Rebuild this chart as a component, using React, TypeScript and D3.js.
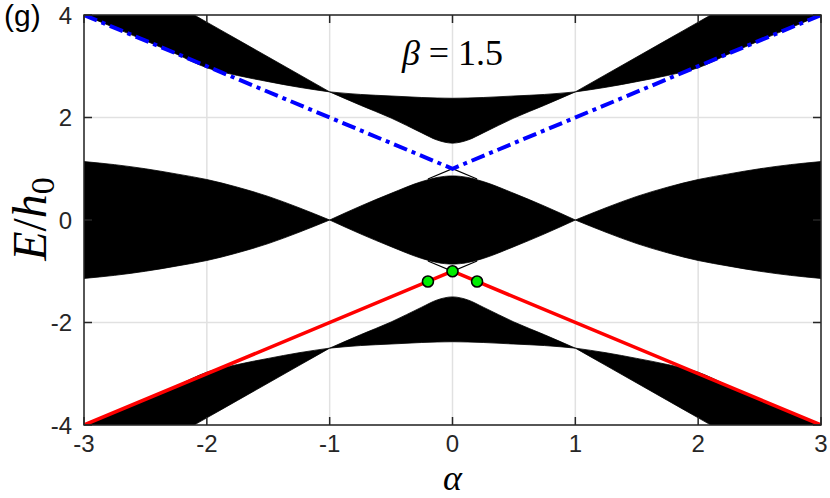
import React from "react";
import * as d3 from "d3";

// ---- data ----
const alphaGrid = [-3, -2.75, -2.5, -2.25, -2, -1.75, -1.5, -1.25, -1, -0.75, -0.5, -0.25, -0.125, 0, 0.125, 0.25, 0.5, 0.75, 1, 1.25, 1.5, 1.75, 2, 2.25, 2.5, 2.75, 3];

const upperBandTop = [5.2, 4.86, 4.54, 4.2, 3.86, 3.52, 3.18, 2.84, 2.5, 2.45, 2.42, 2.39, 2.38, 2.375, 2.38, 2.39, 2.42, 2.45, 2.5, 2.84, 3.18, 3.52, 3.86, 4.2, 4.54, 4.86, 5.2];
const upperBandBottom = [4.0, 3.75, 3.5, 3.24, 2.97, 2.82, 2.7, 2.59, 2.5, 2.24, 1.99, 1.7, 1.56, 1.5, 1.56, 1.7, 1.99, 2.24, 2.5, 2.59, 2.7, 2.82, 2.97, 3.24, 3.5, 3.75, 4.0];
const middleBandTop = [1.14, 1.08, 1.0, 0.9, 0.79, 0.64, 0.46, 0.24, 0, 0.27, 0.52, 0.75, 0.83, 0.86, 0.83, 0.75, 0.52, 0.27, 0, 0.24, 0.46, 0.64, 0.79, 0.9, 1.0, 1.08, 1.14];
const middleBandBottom = [-1.14, -1.08, -1.0, -0.9, -0.79, -0.64, -0.46, -0.24, 0, -0.27, -0.52, -0.75, -0.83, -0.86, -0.83, -0.75, -0.52, -0.27, 0, -0.24, -0.46, -0.64, -0.79, -0.9, -1.0, -1.08, -1.14];
const lowerBandTop = [-4.0, -3.75, -3.5, -3.24, -2.97, -2.82, -2.7, -2.59, -2.5, -2.24, -1.99, -1.7, -1.56, -1.5, -1.56, -1.7, -1.99, -2.24, -2.5, -2.59, -2.7, -2.82, -2.97, -3.24, -3.5, -3.75, -4.0];
const lowerBandBottom = [-5.2, -4.86, -4.54, -4.2, -3.86, -3.52, -3.18, -2.84, -2.5, -2.45, -2.42, -2.39, -2.38, -2.375, -2.38, -2.39, -2.42, -2.45, -2.5, -2.84, -3.18, -3.52, -3.86, -4.2, -4.54, -4.86, -5.2];

// thin edge-state lines near alpha = 0
const edgeAlpha = [-0.2, 0, 0.2];
const edgeUpper = [0.8, 1.0, 0.8];
const edgeLower = [-0.8, -1.0, -0.8];

// blue dash-dot and red solid lines
const blueAlpha = [-3, 0, 3];
const blueE = [4, 1, 4];
const redAlpha = [-3, 0, 3];
const redE = [-4, -1, -4];

// green markers
const dotAlpha = [-0.2, 0, 0.2];
const dotE = [-1.2, -1, -1.2];

const xTicks = [-3, -2, -1, 0, 1, 2, 3];
const yTicks = [-4, -2, 0, 2, 4];
const segments = [[-3, -1], [-1, 1], [1, 3]];

const W = 830, H = 498;
const L = 84, R = 821, T = 15, B = 425;

export default function App() {
  const x = d3.scaleLinear().domain([-3, 3]).range([L, R]);
  const y = d3.scaleLinear().domain([-4, 4]).range([B, T]);

  const bands = [
    [upperBandTop, upperBandBottom],
    [middleBandTop, middleBandBottom],
    [lowerBandTop, lowerBandBottom],
  ];

  const area = d3
    .area<{ a: number; t: number; b: number }>()
    .x((d) => x(d.a))
    .y0((d) => y(d.b))
    .y1((d) => y(d.t))
    .curve(d3.curveMonotoneX);

  const line = d3
    .line<[number, number]>()
    .x((d) => x(d[0]))
    .y((d) => y(d[1]));

  const bandPaths: string[] = [];
  bands.forEach(([top, bot]) => {
    segments.forEach(([s0, s1]) => {
      const pts = alphaGrid
        .map((a, i) => ({ a, t: top[i], b: bot[i] }))
        .filter((p) => p.a >= s0 && p.a <= s1);
      bandPaths.push(area(pts) as string);
    });
  });

  const tickFont = "'Liberation Sans', Arial, Helvetica, sans-serif";
  const mathFont = "'Liberation Serif', 'Times New Roman', serif";
  const axisColor = "#262626";

  return (
    <svg width={W} height={H} style={{ position: "absolute", left: 0, top: 0, display: "block", background: "#fff" }}>
      <defs>
        <clipPath id="plotclip">
          <rect x={L} y={T} width={R - L} height={B - T} />
        </clipPath>
      </defs>
      <rect x={0} y={0} width={W} height={H} fill="#fff" />
      {/* grid */}
      <g stroke="#e1e1e1" strokeWidth={1.5}>
        {xTicks.map((t) => (
          <line key={"gx" + t} x1={x(t)} x2={x(t)} y1={T} y2={B} />
        ))}
        {yTicks.map((t) => (
          <line key={"gy" + t} x1={L} x2={R} y1={y(t)} y2={y(t)} />
        ))}
      </g>
      {/* bands */}
      <g clipPath="url(#plotclip)">
        {bandPaths.map((d, i) => (
          <path key={"b" + i} d={d} fill="#000" stroke="#000" strokeWidth={0.8} />
        ))}
        <path d={line(edgeAlpha.map((a, i) => [a, edgeUpper[i]]) as any) as string} fill="none" stroke="#000" strokeWidth={1.3} />
        <path d={line(edgeAlpha.map((a, i) => [a, edgeLower[i]]) as any) as string} fill="none" stroke="#000" strokeWidth={1.3} />
        <path
          d={line(blueAlpha.map((a, i) => [a, blueE[i]]) as any) as string}
          fill="none"
          stroke="#0000ff"
          strokeWidth={4}
          strokeDasharray="14,5,4,5"
        />
        <path d={line(redAlpha.map((a, i) => [a, redE[i]]) as any) as string} fill="none" stroke="#ff0000" strokeWidth={3.5} />
      </g>
      {dotAlpha.map((a, i) => (
        <circle key={"d" + i} cx={x(a)} cy={y(dotE[i])} r={5.5} fill="#00ee00" stroke="#000" strokeWidth={1.6} />
      ))}
      {/* frame */}
      <rect x={L} y={T} width={R - L} height={B - T} fill="none" stroke={axisColor} strokeWidth={1.5} />
      {/* ticks */}
      <g stroke={axisColor} strokeWidth={1.5}>
        {xTicks.map((t) => (
          <g key={"tx" + t}>
            <line x1={x(t)} x2={x(t)} y1={B} y2={B - 8} />
            <line x1={x(t)} x2={x(t)} y1={T} y2={T + 8} />
          </g>
        ))}
        {yTicks.map((t) => (
          <g key={"ty" + t}>
            <line x1={L} x2={L + 8} y1={y(t)} y2={y(t)} />
            <line x1={R} x2={R - 8} y1={y(t)} y2={y(t)} />
          </g>
        ))}
      </g>
      {/* tick labels */}
      <g fontFamily={tickFont} fontSize={24} fill={axisColor}>
        {xTicks.map((t) => (
          <text key={"lx" + t} x={x(t)} y={452} textAnchor="middle">
            {String(t)}
          </text>
        ))}
        {yTicks.map((t) => (
          <text key={"ly" + t} x={72} y={y(t) + 8.7} textAnchor="end">
            {String(t)}
          </text>
        ))}
      </g>
      {/* panel label */}
      <text x={4} y={26} fontFamily={tickFont} fontSize={30} fill="#000">
        (g)
      </text>
      {/* beta annotation */}
      <text x={x(0)} y={65} textAnchor="middle" fontFamily={mathFont} fontSize={36} fill="#000">
        <tspan fontStyle="italic">β</tspan>
        <tspan> = 1.5</tspan>
      </text>
      {/* x label */}
      <text x={x(0)} y={489.5} textAnchor="middle" fontFamily={mathFont} fontSize={36} fontStyle="italic" fill="#000">
        α
      </text>
      {/* y label */}
      <text transform={`translate(46,219) rotate(-90)`} textAnchor="middle" fontFamily={mathFont} fontSize={48} fill="#000">
        <tspan fontStyle="italic">E</tspan>
        <tspan>/</tspan>
        <tspan fontStyle="italic">h</tspan>
        <tspan fontSize={34} dy={8}>0</tspan>
      </text>
    </svg>
  );
}
